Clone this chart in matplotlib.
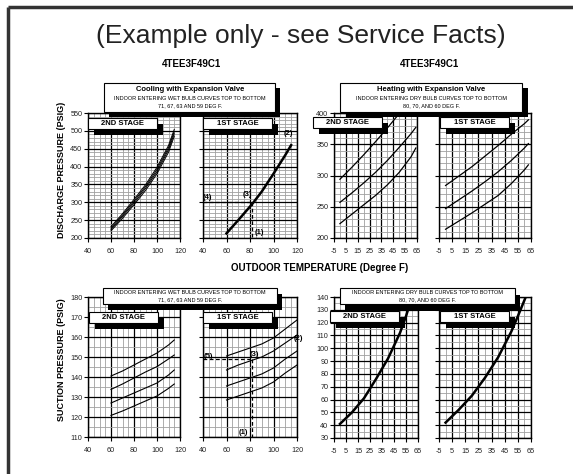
import matplotlib.pyplot as plt
from matplotlib.patches import Rectangle
import numpy as np

plt.rcParams['font.family'] = ['Liberation Sans', 'DejaVu Sans']
plt.rcParams['axes.unicode_minus'] = False
TICK_FONT = ['Liberation Sans Narrow', 'Liberation Sans', 'DejaVu Sans']

W, H = 573, 474  # figure size in pixels

# ---------------- data ----------------
# cooling, discharge pressure (wet bulb 71, 67, 63, 59 top to bottom)
cool_dis_2nd_x = [60, 70, 80, 90, 100, 110, 115]
cool_dis_2nd = [
    [232, 268, 308, 349, 398, 459, 504],
    [228, 264, 303, 344, 392, 453, 498],
    [224, 260, 298, 339, 386, 447, 492],
    [220, 255, 293, 333, 380, 440, 485],
]
cool_dis_1st_x = [60, 70, 80, 83, 90, 100, 110, 115]
cool_dis_1st = [213, 250, 288, 300, 330, 380, 432, 460]

# cooling, suction pressure
cool_suc_2nd_x = [60, 70, 80, 90, 100, 110, 115]
cool_suc_2nd = [
    [140.5, 143, 146, 149, 152, 156, 158.5],
    [133.8, 136.5, 139.5, 142.5, 145.2, 149, 151],
    [127, 129.5, 132, 134.5, 137, 141, 143.5],
    [120.8, 123, 125.5, 128, 130.5, 134.3, 136.5],
]
cool_suc_1st_x = [60, 70, 80, 90, 100, 110, 120]
cool_suc_1st = [
    [150.5, 152.5, 154.5, 156.5, 159.5, 164, 168.5],
    [143.5, 146, 148, 150, 153, 157, 161],
    [135.5, 137.5, 139.5, 141.5, 144.5, 149, 153],
    [128.5, 130.5, 132.5, 134.5, 137.5, 142, 146],
]

# heating, discharge pressure (dry bulb 80, 70, 60 top to bottom)
heat_dis_x = [0, 10, 20, 30, 40, 50, 60, 64]
heat_dis_2nd = [
    [294, 313, 333, 354, 376, 399, 422, 431],
    [257, 272, 288, 305, 324, 345, 367, 377],
    [223, 238, 253, 268, 285, 305, 330, 344],
]
heat_dis_1st_x = [0, 10, 20, 30, 40, 50, 60, 63]
heat_dis_1st = [
    [284, 299, 314, 331, 348, 366, 383, 389],
    [247, 261, 275, 290, 306, 324, 344, 351],
    [214, 227, 240, 254, 268, 287, 309, 317],
]

# heating, suction pressure
heat_suc_2nd_x = [0, 10, 20, 30, 40, 50, 55, 60]
heat_suc_2nd = [41, 50, 61, 76, 92, 112, 125, 140]
heat_suc_1st_x = [0, 10, 20, 30, 40, 50, 55, 61]
heat_suc_1st = [42, 52, 63, 77, 93, 113, 125, 140]

# example reading on the 1st stage cooling charts
ex_temp = 82
ex_discharge = 300
ex_suction = 149

cool_xticks = [40, 60, 80, 100, 120]
heat_xticks = [-5, 5, 15, 25, 35, 45, 55, 65]

fig = plt.figure(figsize=(W / 100, H / 100), dpi=100)


def px_axes(x0, x1, y0, y1):
    # axes placed by pixel box (y measured from the top)
    return fig.add_axes([x0 / W, 1 - y1 / H, (x1 - x0) / W, (y1 - y0) / H])


def panel(rect, xlim, xticks, xstep, ylim, ystep, ymajor, ylabels=True):
    ax = px_axes(*rect)
    ax.set_xlim(xlim)
    ax.set_ylim(ylim)
    ax.set_xticks(xticks)
    ax.set_xticks(np.arange(xlim[0], xlim[1] + 0.1, xstep), minor=True)
    ax.set_yticks(np.arange(ylim[0], ylim[1] + 0.1, ymajor))
    ax.set_yticks(np.arange(ylim[0], ylim[1] + 0.1, ystep), minor=True)
    ax.set_axisbelow(True)
    ax.grid(which='minor', color='#a0a0a0', lw=0.6)
    ax.grid(which='major', color='black', lw=0.9)
    ax.tick_params(which='major', direction='out', length=3, width=0.8,
                   labelsize=5.2, colors='black')
    ax.tick_params(axis='x', pad=4.5)
    ax.tick_params(axis='y', pad=1)
    ax.tick_params(which='minor', length=0)
    if not ylabels:
        ax.tick_params(axis='y', labelleft=False)
    for lbl in ax.get_xticklabels() + ax.get_yticklabels():
        lbl.set_family(TICK_FONT)
        lbl.set_color('#222222')
    for s in ax.spines.values():
        s.set_linewidth(1)
    return ax


# --- cooling discharge ---
ax = panel((88, 180, 113, 238), (40, 120), cool_xticks, 5, (200, 550), 10, 50)
for curve in cool_dis_2nd:
    ax.plot(cool_dis_2nd_x, curve, color='black', lw=0.7)

ax = panel((203, 297, 113, 238), (40, 120), cool_xticks, 5, (200, 550), 10, 50, ylabels=False)
ax.plot(cool_dis_1st_x, cool_dis_1st, color='black', lw=1.8)
ax.plot([40, ex_temp], [ex_discharge, ex_discharge], color='black', lw=0.9, dashes=(3, 2))
ax.plot([ex_temp, ex_temp], [ex_discharge, 200], color='black', lw=0.9, dashes=(3, 2))
ax.text(43.5, 313, '(4)', fontsize=5.5, weight='bold', ha='center', va='center')
ax.text(78, 322, '(3)', fontsize=5.5, weight='bold', ha='center', va='center')
ax.text(88, 214, '(1)', fontsize=5.5, weight='bold', ha='center', va='center')
ax.text(113, 492, '(2)', fontsize=5.5, weight='bold', ha='center', va='center')

# --- heating discharge ---
ax = panel((334, 417, 113, 238), (-5, 65), heat_xticks, 5, (200, 400), 10, 50)
for curve in heat_dis_2nd:
    ax.plot(heat_dis_x, curve, color='black', lw=0.9)

ax = panel((439, 531, 113, 238), (-5, 65), heat_xticks, 5, (200, 400), 10, 50, ylabels=False)
for curve in heat_dis_1st:
    ax.plot(heat_dis_1st_x, curve, color='black', lw=0.9)

# --- cooling suction ---
ax = panel((88, 180, 297, 437), (40, 120), cool_xticks, 5, (110, 180), 5, 10)
for curve in cool_suc_2nd:
    ax.plot(cool_suc_2nd_x, curve, color='black', lw=0.8)

ax = panel((203, 297, 297, 437), (40, 120), cool_xticks, 5, (110, 180), 5, 10, ylabels=False)
for curve in cool_suc_1st:
    ax.plot(cool_suc_1st_x, curve, color='black', lw=0.8)
ax.plot([40, ex_temp], [ex_suction, ex_suction], color='black', lw=0.9, dashes=(3, 2))
ax.plot([ex_temp, ex_temp], [ex_suction, 110], color='black', lw=0.9, dashes=(3, 2))
ax.text(45, 150.5, '(5)', fontsize=5.5, weight='bold', ha='center', va='center')
ax.text(84, 151.5, '(3)', fontsize=5.5, weight='bold', ha='center', va='center')
ax.text(74.5, 112.5, '(1)', fontsize=5.5, weight='bold', ha='center', va='center')
ax.text(121.5, 159, '(2)', fontsize=5.5, weight='bold', ha='center', va='center', clip_on=False)

# --- heating suction ---
ax = panel((334, 418, 297, 438), (-5, 65), heat_xticks, 5, (30, 140), 5, 10)
ax.plot(heat_suc_2nd_x, heat_suc_2nd, color='black', lw=1.8)

ax = panel((439, 531, 297, 438), (-5, 65), heat_xticks, 5, (30, 140), 5, 10, ylabels=False)
ax.plot(heat_suc_1st_x, heat_suc_1st, color='black', lw=1.8)

# ---------------- overlay: frame, boxes and titles ----------------
ov = fig.add_axes([0, 0, 1, 1], zorder=10)
ov.set_xlim(0, W)
ov.set_ylim(H, 0)
ov.axis('off')
ov.patch.set_alpha(0)

ov.plot([8, W], [7, 7], color='#333333', lw=2.5, solid_capstyle='butt')
ov.plot([8, 8], [7, H], color='#333333', lw=2.5, solid_capstyle='butt')


def shadow_box(x0, y0, x1, y1, dx, dy):
    ov.add_patch(Rectangle((x0 + dx, y0 + dy), x1 - x0, y1 - y0, color='black', lw=0))
    ov.add_patch(Rectangle((x0, y0), x1 - x0, y1 - y0, fc='white', ec='black', lw=0.8))


# chart title boxes
shadow_box(104, 83, 275, 112, 5, 5)
ov.text(190, 89.5, 'Cooling with Expansion Valve', fontsize=5.5, weight='bold', ha='center', va='center')
ov.text(190, 98, 'INDOOR ENTERING WET BULB CURVES TOP TO BOTTOM', fontsize=4, ha='center', va='center')
ov.text(190, 106, '71, 67, 63 AND 59 DEG F.', fontsize=4, ha='center', va='center')

shadow_box(340, 83, 522, 112, 6, 5)
ov.text(431, 89.5, 'Heating with Expansion Valve', fontsize=5.5, weight='bold', ha='center', va='center')
ov.text(431, 98, 'INDOOR ENTERING DRY BULB CURVES TOP TO BOTTOM', fontsize=4, ha='center', va='center')
ov.text(431, 106, '80, 70, AND 60 DEG F.', fontsize=4, ha='center', va='center')

shadow_box(103, 288, 277, 304, 5, 6)
ov.text(190, 292.5, 'INDOOR ENTERING WET BULB CURVES TOP TO BOTTOM', fontsize=4, ha='center', va='center')
ov.text(190, 300, '71, 67, 63 AND 59 DEG F.', fontsize=4, ha='center', va='center')

shadow_box(340, 288, 515, 304, 5, 7)
ov.text(427, 292.5, 'INDOOR ENTERING DRY BULB CURVES TOP TO BOTTOM', fontsize=4, ha='center', va='center')
ov.text(427, 300, '80, 70, AND 60 DEG F.', fontsize=4, ha='center', va='center')

# stage boxes
stage_boxes = [
    (88, 118, '2ND STAGE'), (203, 118, '1ST STAGE'),
    (313, 117, '2ND STAGE'), (440, 117, '1ST STAGE'),
    (89, 312, '2ND STAGE'), (203, 312, '1ST STAGE'),
    (330, 311, '2ND STAGE'), (440, 311, '1ST STAGE'),
]
for x0, y0, label in stage_boxes:
    shadow_box(x0, y0, x0 + 69, y0 + 10.5, 5.5, 6)
    ov.text(x0 + 34.5, y0 + 5.5, label, fontsize=5.5, weight='bold', ha='center', va='center')

ov.text(301, 36, '(Example only - see Service Facts)', fontsize=19, ha='center', va='center', color='#222222')
ov.text(191, 64, '4TEE3F49C1', fontsize=7, weight='bold', ha='center', va='center')
ov.text(430, 64, '4TEE3F49C1', fontsize=7, weight='bold', ha='center', va='center')
ov.text(320, 268, 'OUTDOOR TEMPERATURE (Degree F)', fontsize=7, weight='bold', ha='center', va='center')
ov.text(62, 170, 'DISCHARGE PRESSURE (PSIG)', fontsize=6.5, weight='bold', ha='center', va='center', rotation=90)
ov.text(62, 360, 'SUCTION PRESSURE (PSIG)', fontsize=6.5, weight='bold', ha='center', va='center', rotation=90)

fig.savefig('out.png', dpi=100)
